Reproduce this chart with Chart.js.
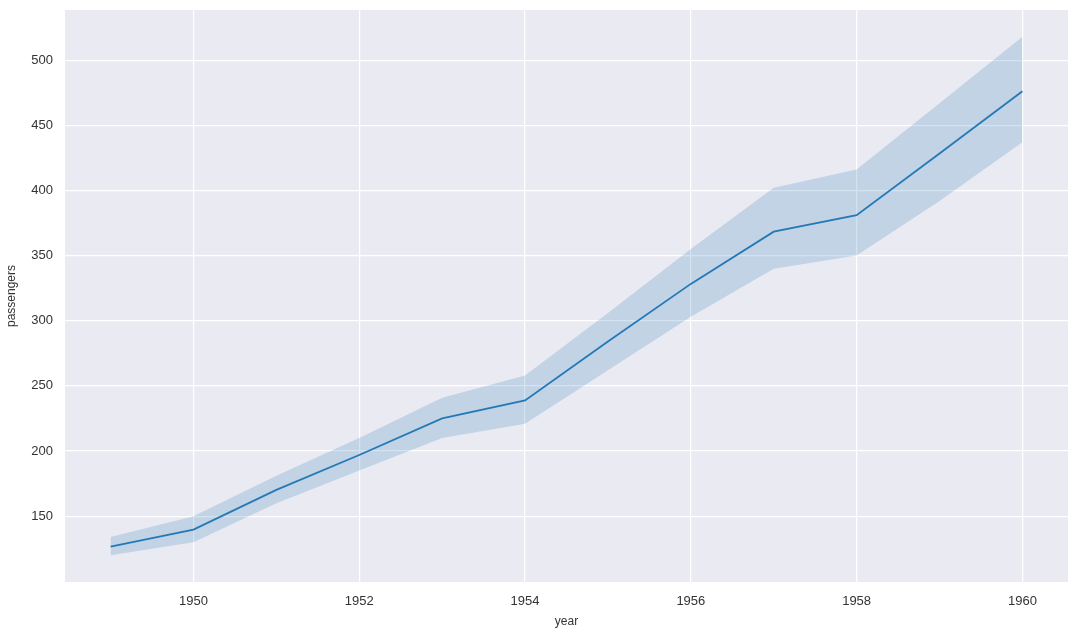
<!DOCTYPE html>
<html lang="en">
<head>
  <meta charset="UTF-8">
  <title>passengers by year</title>
  <script src="https://cdn.jsdelivr.net/npm/chart.js"></script>
  <style>
    html, body { margin: 0; padding: 0; background: #fff; }
    #wrap { width: 1080px; height: 633px; }
  </style>
</head>
<body>
  <div id="wrap"><canvas id="chart" width="1080" height="633"></canvas></div>

  <script>
    // flights data: mean passengers per year with 95% CI band
    const years = [1949, 1950, 1951, 1952, 1953, 1954, 1955, 1956, 1957, 1958, 1959, 1960];
    const meanPassengers = [126.7, 139.7, 170.2, 197.0, 225.0, 238.9, 284.0, 328.3, 368.4, 381.0, 428.3, 476.2];
    const ciLow = [120, 130, 160, 185, 210, 221, 262, 303, 340, 350, 392, 437];
    const ciHigh = [134, 150, 181, 210, 241, 258, 306, 355, 402, 416, 467, 518];
    const xTicks = [1950, 1952, 1954, 1956, 1958, 1960];
    const yTicks = [150, 200, 250, 300, 350, 400, 450, 500];

    const pts = arr => years.map((yr, i) => ({ x: yr, y: arr[i] }));

    // grey plot background like seaborn darkgrid
    const plotBg = {
      id: 'plotBg',
      beforeDraw(chart) {
        const { ctx, chartArea: a } = chart;
        ctx.save();
        ctx.fillStyle = '#eaeaf2';
        ctx.fillRect(a.left, a.top, a.right - a.left, a.bottom - a.top);
        ctx.restore();
      }
    };

    const tickFont = { family: 'Liberation Sans, Arial, sans-serif', size: 13 };
    const titleFont = { family: 'Liberation Sans, Arial, sans-serif', size: 12 };

    new Chart(document.getElementById('chart'), {
      type: 'line',
      data: {
        datasets: [
          { data: pts(ciLow), borderWidth: 0, pointRadius: 0, fill: false, order: 2 },
          { data: pts(ciHigh), borderWidth: 0, pointRadius: 0, fill: '-1',
            backgroundColor: 'rgba(31,119,180,0.2)', order: 2 },
          { data: pts(meanPassengers), borderColor: '#2379b6', borderWidth: 1.8,
            pointRadius: 0, fill: false, order: 1 }
        ]
      },
      options: {
        responsive: false,
        animation: false,
        layout: { padding: { top: 10, right: 12, left: 0, bottom: 0 } },
        plugins: { legend: { display: false }, tooltip: { enabled: false } },
        scales: {
          x: {
            type: 'linear',
            min: 1948.45,
            max: 1960.55,
            afterBuildTicks: axis => { axis.ticks = xTicks.map(v => ({ value: v })); },
            afterFit: axis => { axis.height = 51; axis.paddingLeft = 0; axis.paddingRight = 0; },
            border: { display: false },
            grid: { color: '#ffffff', lineWidth: 1.2, drawTicks: false },
            ticks: { color: '#333333', font: tickFont, padding: 12, callback: v => String(v) },
            title: { display: true, text: 'year', color: '#333333', font: titleFont, padding: { top: 4 } }
          },
          y: {
            min: 99.5,
            max: 538.5,
            afterBuildTicks: axis => { axis.ticks = yTicks.map(v => ({ value: v })); },
            afterFit: axis => { axis.width = 65; axis.paddingTop = 0; axis.paddingBottom = 0; },
            border: { display: false },
            grid: { color: '#ffffff', lineWidth: 1.2, drawTicks: false },
            ticks: { color: '#333333', font: tickFont, padding: 12, callback: v => String(v) },
            title: { display: true, text: 'passengers', color: '#333333', font: titleFont, padding: { top: 4, bottom: 2 } }
          }
        }
      },
      plugins: [plotBg]
    });
  </script>
</body>
</html>
